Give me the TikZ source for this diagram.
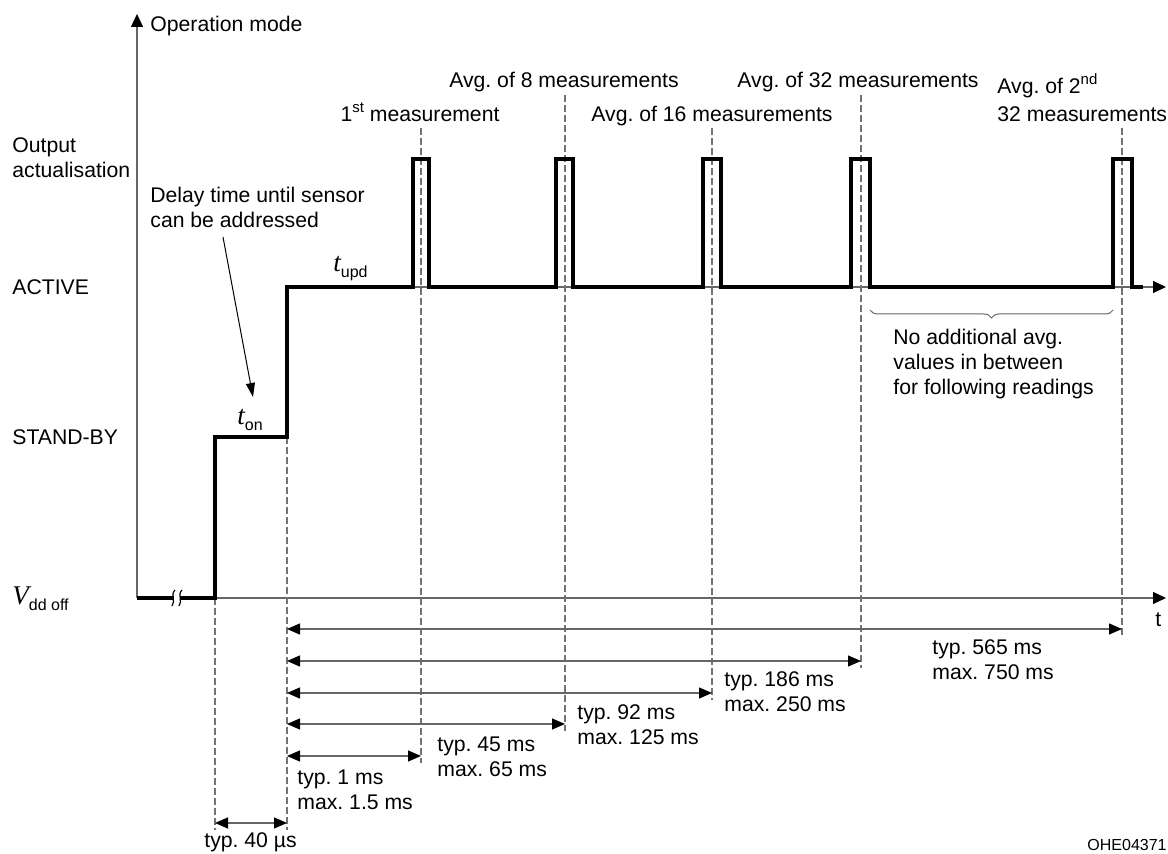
\documentclass[tikz,border=0pt]{standalone}
\usepackage{fontspec}
\setmainfont{Liberation Sans}
\newfontfamily\varfont{Liberation Serif}
\usetikzlibrary{arrows.meta,decorations.pathreplacing}

\newcommand\lowtxt[1]{\raisebox{-0.28em}{\fontsize{8}{8}\selectfont #1}}
\newcommand\hightxt[1]{\raisebox{0.45em}{\fontsize{7.5}{8}\selectfont #1}}
\newcommand\vartxt[1]{{\varfont\itshape\fontsize{13.5}{13.5}\selectfont #1}}

\begin{document}
\begin{tikzpicture}[
  x=0.5pt, y=-0.5pt,
  font=\fontsize{10.6}{12.5}\selectfont,
  axis/.style={
    draw=black!60,
    line width=0.6pt,
    -{Triangle[length=6.5pt,width=6pt,color=black]}
  },
  signal/.style={line width=2pt},
  guide/.style={draw=black!55, line width=0.55pt, dash pattern=on 3.5pt off 1.5pt},
  dim/.style={
    draw=black!60,
    line width=0.6pt,
    {Triangle[length=6.5pt,width=5.5pt,color=black]}-{Triangle[length=6.5pt,width=5.5pt,color=black]}
  },
  pointer/.style={draw=black, line width=0.5pt, -{Triangle[length=7pt,width=4.5pt]}},
  brace/.style={draw=black!60, line width=0.5pt, decorate,
    decoration={brace, amplitude=4pt, mirror}},
  txt/.style={inner sep=0pt, anchor=base west},
  multi/.style={inner sep=0pt, anchor=west, align=left},
  mlabel/.style={inner sep=0pt, anchor=base}
]
  \useasboundingbox (0,0) rectangle (1168,854);

  % axes
  \coordinate (origin) at (137,598);
  \coordinate (ytop) at (137,14);
  \coordinate (tend) at (1166,598);
  \coordinate (act-l) at (287,287);
  \coordinate (act-r) at (1166,287);
  \draw[axis] (origin) -- (ytop);
  \draw[axis] (origin) -- (tend);
  \draw[axis] (act-l) -- (act-r);

  % guide lines and durations
  \coordinate (on-top) at (215,598);
  \coordinate (on-bot) at (215,830);
  \coordinate (upd-top) at (287,437);
  \coordinate (upd-bot) at (287,830);
  \draw[guide] (on-top) -- (on-bot);
  \draw[guide] (upd-top) -- (upd-bot);
  \foreach \n/\x/\top/\bot/\y in {m1/421/128/763/756, m2/565/95/731/724,
      m3/712/128/700/693, m4/861/95/668/661, m5/1122/128/636/629}{
    \coordinate (\n-top) at (\x,\top);
    \coordinate (\n-bot) at (\x,\bot);
    \coordinate (\n-end) at (\x,\y);
    \coordinate (\n-start) at (287,\y);
    \draw[guide] (\n-top) -- (\n-bot);
    \draw[dim] (\n-start) -- (\n-end);
  }
  \coordinate (on-a) at (215,823);
  \coordinate (on-b) at (287,823);
  \draw[dim] (on-a) -- (on-b);

  % operation mode
  \draw[signal] (origin) -- (215,598) -- (215,437) -- (287,437) -- (287,287)
    \foreach \a/\b in {413/429, 556/573, 703/721, 851/870, 1113/1132}{
      -- (\a,287) -- (\a,159) -- (\b,159) -- (\b,287)
    } -- (1143,287);
  \fill[white] (174,590) rectangle (180,606);
  \draw[line width=0.6pt] (172,606) .. controls (176,601) and (170,595) .. (175,590);
  \draw[line width=0.6pt] (179,606) .. controls (183,601) and (177,595) .. (182,590);

  % level labels
  \node[txt] (opmode) at (150,32) {Operation mode};
  \node[multi] (outact) at (12,158) {Output\\actualisation};
  \node[txt] (active) at (12,295) {ACTIVE};
  \node[txt] (standby) at (12,445) {STAND-BY};
  \node[txt] (vdd) at (12,605) {\vartxt{V}\lowtxt{dd off}};
  \node[txt] (tlabel) at (1155,627) {t};

  \node[txt] (ton) at (237,425) {\vartxt{t}\lowtxt{on}};
  \node[txt] (tupd) at (333,272) {\vartxt{t}\lowtxt{upd}};

  \node[multi] (delay) at (150,207) {Delay time until sensor\\can be addressed};
  \coordinate (delay-a) at (223,237);
  \coordinate (delay-b) at (253,397);
  \draw[pointer] (delay-a) -- (delay-b);

  % measurement labels
  \node[mlabel] (lab1) at (420,122) {1\hightxt{st} measurement};
  \node[mlabel] (lab2) at (564,88) {Avg.\ of 8 measurements};
  \node[mlabel] (lab3) at (712,122) {Avg.\ of 16 measurements};
  \node[mlabel] (lab4) at (858,88) {Avg.\ of 32 measurements};
  \node[txt] (lab5a) at (997,94) {Avg.\ of 2\hightxt{nd}};
  \node[txt] (lab5b) at (997,122) {32 measurements};

  \coordinate (brace-l) at (870,310);
  \coordinate (brace-r) at (1113,310);
  \draw[brace] (brace-l) -- (brace-r);
  \node[multi] (noavg) at (893,364) {No additional avg.\\values in between\\for following readings};

  % duration labels
  \node[multi] (t1) at (297,790) {typ.\ 1 ms\\max.\ 1.5 ms};
  \node[multi] (t45) at (437,757) {typ.\ 45 ms\\max.\ 65 ms};
  \node[multi] (t92) at (577,725) {typ.\ 92 ms\\max.\ 125 ms};
  \node[multi] (t186) at (724,692) {typ.\ 186 ms\\max.\ 250 ms};
  \node[multi] (t565) at (932,660) {typ.\ 565 ms\\max.\ 750 ms};
  \node[txt] (t40) at (204,848) {typ.\ 40 µs};

  \node[inner sep=0pt, anchor=base east, font=\fontsize{8}{8}\selectfont] (code) at (1167,851) {OHE04371};
\end{tikzpicture}
\end{document}
